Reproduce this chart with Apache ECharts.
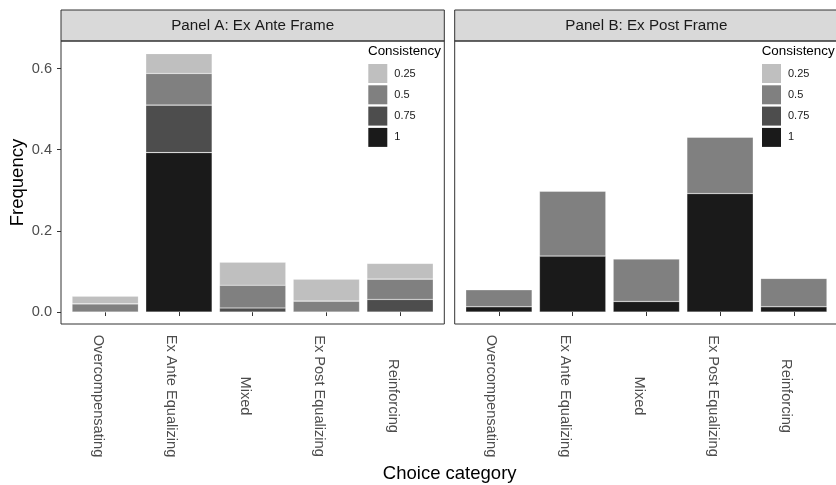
<!DOCTYPE html>
<html><head><meta charset="utf-8">
<script src="https://cdn.jsdelivr.net/npm/echarts@6/dist/echarts.min.js"></script>
<style>html,body{margin:0;padding:0;background:#fff}#c{width:836px;height:485px}</style>
</head><body><div id="c"></div>
<script>
// ---- data ----
const categories = ['Overcompensating', 'Ex Ante Equalizing', 'Mixed', 'Ex Post Equalizing', 'Reinforcing'];
const legendLevels = ['0.25', '0.5', '0.75', '1'];
const panelTitles = ['Panel A: Ex Ante Frame', 'Panel B: Ex Post Frame'];
const yTicks = [0, 0.2, 0.4, 0.6];

// Panel A: Ex Ante Frame (frequency by consistency level)
const exAnte_1    = [0.000, 0.393, 0.000, 0.000, 0.000];
const exAnte_075  = [0.000, 0.117, 0.010, 0.000, 0.031];
const exAnte_050  = [0.020, 0.078, 0.056, 0.027, 0.050];
const exAnte_025  = [0.019, 0.049, 0.057, 0.054, 0.039];
// Panel B: Ex Post Frame
const exPost_1    = [0.013, 0.138, 0.026, 0.292, 0.013];
const exPost_075  = [0.000, 0.000, 0.000, 0.000, 0.000];
const exPost_050  = [0.042, 0.160, 0.105, 0.139, 0.070];
const exPost_025  = [0.000, 0.000, 0.000, 0.000, 0.000];

// ---- styling ----
const FONT = 'Liberation Sans, Arial, Helvetica, sans-serif';
const levelColors = { '1': '#1a1a1a', '0.75': '#4d4d4d', '0.5': '#808080', '0.25': '#bfbfbf' };
const stackOrder = ['1', '0.75', '0.5', '0.25'];
const panels = [
  { '1': exAnte_1, '0.75': exAnte_075, '0.5': exAnte_050, '0.25': exAnte_025 },
  { '1': exPost_1, '0.75': exPost_075, '0.5': exPost_050, '0.25': exPost_025 }
];

// panel frames (ggplot facet panels) and inner data areas (0.6 band expansion each side)
const frameTop = 41, frameH = 283, frameW = 383.3;
const frameLefts = [61, 454.7];
const band = frameW / 5.2;
const pad = band * 0.1;   // inner data grid inset = 0.6 band - 0.5 band

const series = [];
panels.forEach((p, pi) => {
  stackOrder.forEach(lv => {
    series.push({
      type: 'bar', name: lv, stack: 'panel' + pi,
      xAxisIndex: pi, yAxisIndex: pi,
      barWidth: '90%',
      itemStyle: { color: levelColors[lv], borderColor: 'rgba(255,255,255,0.3)', borderWidth: 0.6 },
      emphasis: { disabled: true },
      data: p[lv]
    });
  });
});

const xAxes = frameLefts.map((l, i) => ({
  type: 'category', gridIndex: i, data: categories,
  axisLine: { show: false }, splitLine: { show: false },
  axisTick: { show: true, alignWithLabel: true, length: 4, lineStyle: { color: '#333333' } },
  axisLabel: {
    interval: 0, rotate: -90, margin: 72,
    align: 'center', verticalAlign: 'top',
    fontFamily: FONT, fontSize: 14.6, color: '#4d4d4d'
  }
}));

const yAxes = frameLefts.map((l, i) => ({
  type: 'value', gridIndex: i, min: -0.0295, max: 0.668, offset: pad,
  axisLine: { show: false }, splitLine: { show: false },
  axisTick: { show: i === 0, customValues: yTicks, length: 4, lineStyle: { color: '#333333' } },
  axisLabel: {
    show: i === 0, customValues: yTicks, margin: 9,
    fontFamily: FONT, fontSize: 14.6, color: '#4d4d4d',
    formatter: v => v.toFixed(1)
  },
  name: i === 0 ? 'Frequency' : '', nameLocation: 'middle', nameGap: 34,
  nameTextStyle: { fontFamily: FONT, fontSize: 18.5, color: '#000000' }
}));

const grids = frameLefts.map(l => ({
  left: l + pad, top: frameTop, width: frameW - 2 * pad, height: frameH, show: false
}));

const legends = frameLefts.map((l, i) => ({
  data: legendLevels, orient: 'vertical', left: l + 307.3, top: 64, padding: 0,
  icon: 'rect', itemWidth: 19, itemHeight: 19, itemGap: 2.3,
  selectedMode: false,
  itemStyle: { borderWidth: 0 },
  textStyle: { fontFamily: FONT, fontSize: 11, color: '#1a1a1a', padding: [0, 0, 0, 2] }
}));

const graphics = [];
frameLefts.forEach((l, i) => {
  graphics.push({
    type: 'rect', shape: { x: l, y: frameTop, width: frameW, height: frameH },
    style: { fill: null, stroke: '#333333', lineWidth: 1 }, silent: true, z: 10
  });
  graphics.push({
    type: 'rect', shape: { x: l, y: 10, width: frameW, height: frameTop - 10 },
    style: { fill: '#d9d9d9', stroke: '#333333', lineWidth: 1 }, silent: true
  });
  graphics.push({
    type: 'text', x: l + frameW / 2, y: 25.6,
    style: { text: panelTitles[i], fontFamily: FONT, fontSize: 15.2, fill: '#1a1a1a', align: 'center', verticalAlign: 'middle' },
    silent: true
  });
  graphics.push({
    type: 'text', x: l + 307, y: 51,
    style: { text: 'Consistency', fontFamily: FONT, fontSize: 13.4, fill: '#000000', align: 'left', verticalAlign: 'middle' },
    silent: true
  });
});
graphics.push({
  type: 'text', x: 449.7, y: 473.8,
  style: { text: 'Choice category', fontFamily: FONT, fontSize: 18.5, fill: '#000000', align: 'center', verticalAlign: 'middle' },
  silent: true
});

const chart = echarts.init(document.getElementById('c'), null, { renderer: 'canvas' });
chart.setOption({
  animation: false,
  backgroundColor: '#ffffff',
  grid: grids, xAxis: xAxes, yAxis: yAxes,
  legend: legends,
  series: series,
  graphic: graphics
});
</script></body></html>
